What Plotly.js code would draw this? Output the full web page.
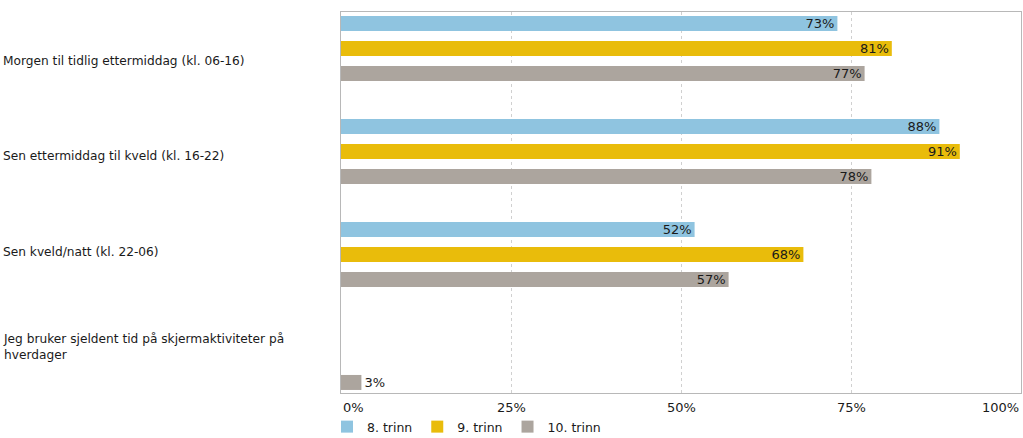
<!DOCTYPE html>
<html>
<head>
<meta charset="utf-8">
<script src="https://cdn.plot.ly/plotly-3.0.1.min.js"></script>
<style>html,body{margin:0;padding:0;background:#fff;}#chart{width:1023px;height:438px;}</style>
</head>
<body>
<div id="chart"></div>
<script>
const categories = [
  "Morgen til tidlig ettermiddag (kl. 06-16)",
  "Sen ettermiddag til kveld (kl. 16-22)",
  "Sen kveld/natt (kl. 22-06)",
  "Jeg bruker sjeldent tid på skjermaktiviteter på<br>hverdager"
];
const seriesNames = ["8. trinn", "9. trinn", "10. trinn"];
const trinn8 = [73, 88, 52, null];
const trinn9 = [81, 91, 68, null];
const trinn10 = [77, 78, 57, 3];
const xTicks = [0, 25, 50, 75, 100];
const xTickLabels = ["0%", "25%", "50%", "75%", "100%"];

const colors = ["#8fc4e0", "#e9bc0b", "#aca59e"];
const FONT = "Verdana, 'DejaVu Sans', sans-serif";
const W = 1023, H = 438;
const margin = {l: 341, r: 2, t: 12, b: 45};
const plotW = W - margin.l - margin.r;

const series = [trinn8, trinn9, trinn10];
const traces = series.map((vals, k) => ({
  type: "bar",
  orientation: "h",
  name: seriesNames[k],
  y: categories,
  x: vals,
  marker: {color: colors[k], line: {width: 0}},
  text: vals.map(v => v == null ? "" : v + "%"),
  textposition: vals.map(v => (v != null && v < 10) ? "outside" : "inside"),
  insidetextanchor: "end",
  textangle: 0,
  constraintext: "none",
  textfont: {family: FONT, size: 13, color: "#1a1a1a"},
  cliponaxis: false,
  hoverinfo: "skip"
}));

const annotations = [];
categories.forEach((c, i) => {
  annotations.push({
    xref: "paper", yref: "paper",
    x: -(margin.l - 1) / plotW, y: 1 - (i + 0.5) / categories.length,
    xanchor: "left", yanchor: "middle", align: "left", yshift: -1.5,
    text: c, showarrow: false,
    font: {family: FONT, size: 12.2, color: "#1a1a1a"}
  });
});
xTicks.forEach((t, i) => {
  annotations.push({
    xref: "x", yref: "paper",
    x: t, y: 0, yanchor: "top", yshift: -5,
    xanchor: i === 0 ? "left" : (i === xTicks.length - 1 ? "right" : "center"),
    text: xTickLabels[i], showarrow: false,
    font: {family: FONT, size: 13, color: "#1a1a1a"}
  });
});

const layout = {
  width: W, height: H,
  margin: margin,
  paper_bgcolor: "#fff", plot_bgcolor: "#fff",
  font: {family: FONT, size: 12, color: "#1a1a1a"},
  barmode: "group",
  bargap: 0.272,
  bargroupgap: 0.4,
  xaxis: {
    range: [0, 100], tickvals: xTicks, showticklabels: false,
    showgrid: true, gridcolor: "#d0d0d0", griddash: "3px,3px", gridwidth: 1,
    zeroline: false, showline: true, linecolor: "#b8b8b8", linewidth: 1, mirror: true,
    ticks: "", fixedrange: true
  },
  yaxis: {
    type: "category", categoryorder: "array", categoryarray: categories,
    range: [3.345, -0.354], showticklabels: false, showgrid: false,
    zeroline: false, showline: true, linecolor: "#b8b8b8", linewidth: 1, mirror: true,
    ticks: "", fixedrange: true
  },
  showlegend: true,
  legend: {
    orientation: "h", xref: "paper", yref: "container",
    x: -0.0206, xanchor: "left", y: (H - 427) / H, yanchor: "middle",
    font: {family: FONT, size: 12.5, color: "#1a1a1a"},
    bgcolor: "rgba(0,0,0,0)", traceorder: "normal",
    itemclick: false, itemdoubleclick: false
  },
  annotations: annotations
};

Plotly.newPlot("chart", traces, layout, {displayModeBar: false, staticPlot: true});
</script>
</body>
</html>
